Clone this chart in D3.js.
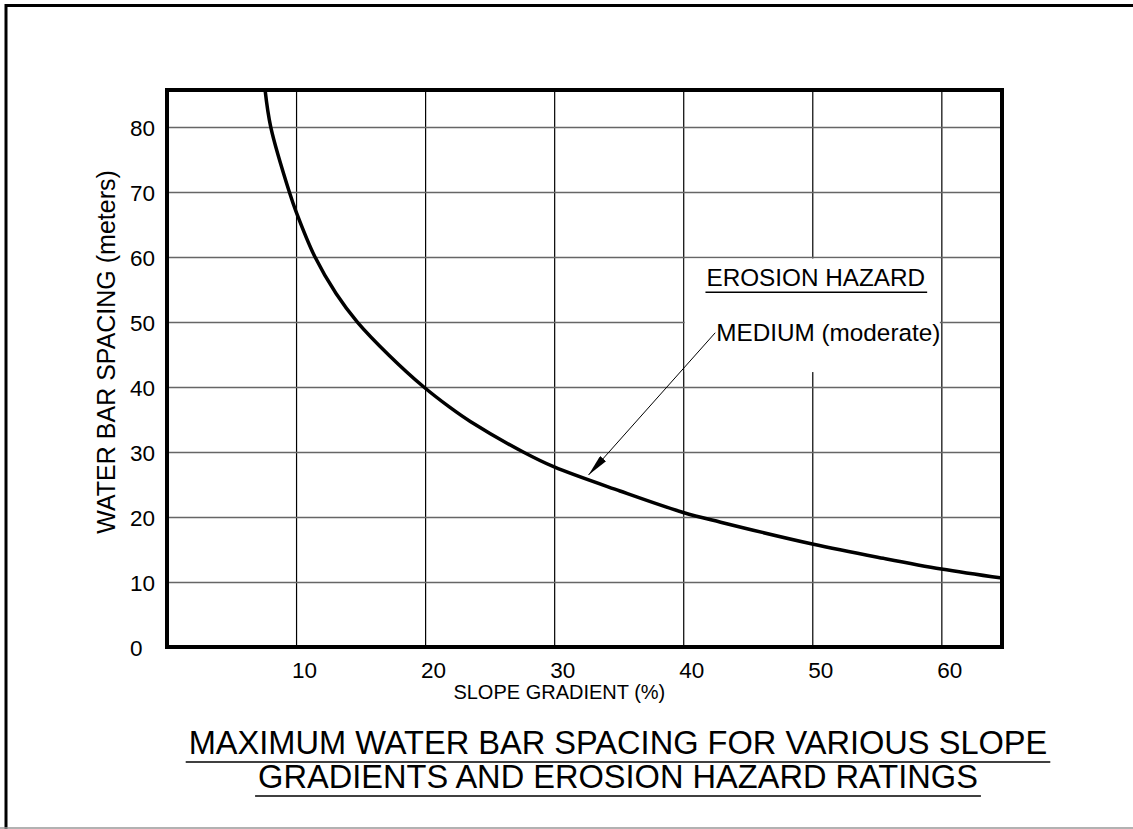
<!DOCTYPE html>
<html>
<head>
<meta charset="utf-8">
<script src="https://cdn.jsdelivr.net/npm/d3@7"></script>
<style>
  body { margin: 0; background: #fff; }
  text { font-family: "Liberation Sans", Arial, sans-serif; fill: #000; }
</style>
</head>
<body>
<div class="chart"></div>
<script>
// curve: slope gradient (%) vs spacing (m)
var slopeValues = [7.6, 8.04, 9.48, 10, 11.47, 13.1, 14.75, 17.2, 19.9, 21.9, 23.5, 27.6, 30, 35.1, 40, 42.9, 50, 55.5, 60, 64.7];
var spacingValues = [85.7, 80, 70, 67, 60, 54.4, 50, 44.9, 40, 36.9, 34.7, 30, 27.7, 24.0, 20.7, 19.2, 15.85, 13.65, 12.0, 10.6];

var xTicks = [10, 20, 30, 40, 50, 60];
var yTicks = [0, 10, 20, 30, 40, 50, 60, 70, 80];

var titleLines = ["MAXIMUM WATER BAR SPACING FOR VARIOUS SLOPE", "GRADIENTS AND EROSION HAZARD RATINGS"];
var legendTitle = "EROSION HAZARD";
var seriesName = "MEDIUM (moderate)";
// arrow from the label to the curve, in data units
var arrowFrom = [42.48, 48.35];
var arrowTo = [32.66, 26.46];
// blank patch behind the legend text, in data units
var legendBox = { x0: 40, x1: 60, y0: 42.3, y1: 60 };

var svgWidth = 1133;
var svgHeight = 829;

var margin = { top: 90, left: 167, right: 131, bottom: 182 };
var width = svgWidth - margin.left - margin.right;
var height = svgHeight - margin.top - margin.bottom;

var svg = d3.select(".chart")
  .append("svg")
  .attr("width", svgWidth)
  .attr("height", svgHeight)
  .style("display", "block");

svg.append("rect")
  .attr("width", svgWidth)
  .attr("height", svgHeight)
  .attr("fill", "#fff");

// sheet border
svg.append("line").attr("x1", 5).attr("x2", svgWidth).attr("y1", 5.5).attr("y2", 5.5)
  .attr("stroke", "#000").attr("stroke-width", 3);
svg.append("line").attr("x1", 6).attr("x2", 6).attr("y1", 4).attr("y2", svgHeight)
  .attr("stroke", "#000").attr("stroke-width", 3);
svg.append("line").attr("x1", 0).attr("x2", svgWidth).attr("y1", 828).attr("y2", 828)
  .attr("stroke", "#999").attr("stroke-width", 1.5);

var chartGroup = svg.append("g")
  .attr("transform", `translate(${margin.left}, ${margin.top})`);

var xScale = d3.scaleLinear().domain([0, 64.7]).range([0, width]);
var yScale = d3.scaleLinear().domain([0, 85.7]).range([height, 0]);

// grid
var xGrid = chartGroup.append("g")
  .attr("transform", `translate(0, ${height})`)
  .call(d3.axisBottom(xScale).tickValues(xTicks).tickSize(-height).tickFormat(""));
xGrid.select(".domain").remove();
xGrid.selectAll("line").attr("stroke", "#000").attr("stroke-width", 1.2);

var yGrid = chartGroup.append("g")
  .call(d3.axisLeft(yScale).tickValues(yTicks.slice(1)).tickSize(-width).tickFormat(""));
yGrid.select(".domain").remove();
yGrid.selectAll("line").attr("stroke", "#666").attr("stroke-width", 1.6);

// white patch behind legend
chartGroup.append("rect")
  .attr("x", xScale(legendBox.x0) + 1.5)
  .attr("width", xScale(legendBox.x1) - xScale(legendBox.x0) - 3)
  .attr("y", yScale(legendBox.y1) + 1.5)
  .attr("height", yScale(legendBox.y0) - yScale(legendBox.y1) - 1.5)
  .attr("fill", "#fff");

// curve
var points = slopeValues.map((s, i) => [s, spacingValues[i]]);
var line = d3.line()
  .x(d => xScale(d[0]))
  .y(d => yScale(d[1]))
  .curve(d3.curveCatmullRom.alpha(0.5));

chartGroup.append("path")
  .datum(points)
  .attr("d", line)
  .attr("fill", "none")
  .attr("stroke", "#000")
  .attr("stroke-width", 3.5);

// plot frame
chartGroup.append("rect")
  .attr("width", width)
  .attr("height", height)
  .attr("fill", "none")
  .attr("stroke", "#000")
  .attr("stroke-width", 4);

// axes labels
var yAxis = chartGroup.append("g")
  .call(d3.axisLeft(yScale).tickValues(yTicks).tickSize(0).tickFormat(d3.format("d")));
yAxis.select(".domain").remove();
yAxis.selectAll("text")
  .attr("x", -37)
  .attr("text-anchor", "start")
  .attr("dy", "0.36em")
  .style("font-size", "22.5px")
  .style("font-family", "'Liberation Sans', Arial, sans-serif");

var xAxis = chartGroup.append("g")
  .attr("transform", `translate(0, ${height})`)
  .call(d3.axisBottom(xScale).tickValues(xTicks).tickSize(0).tickFormat(d3.format("d")));
xAxis.select(".domain").remove();
xAxis.selectAll("text")
  .attr("x", 8)
  .attr("y", 31)
  .attr("dy", 0)
  .style("font-size", "22.5px")
  .style("font-family", "'Liberation Sans', Arial, sans-serif");

chartGroup.append("text")
  .attr("x", xScale(30.4))
  .attr("y", height + 52)
  .attr("text-anchor", "middle")
  .style("font-size", "20px")
  .text("SLOPE GRADIENT (%)");

chartGroup.append("text")
  .attr("transform", `translate(-52, ${yScale(45.4)}) rotate(-90)`)
  .attr("text-anchor", "middle")
  .style("font-size", "25px")
  .text("WATER BAR SPACING (meters)");

// legend
var legendText = chartGroup.append("text")
  .attr("x", xScale(41.8))
  .attr("y", yScale(55.5))
  .style("font-size", "24.3px")
  .text(legendTitle);
var lw = legendText.node().getComputedTextLength();
chartGroup.append("line")
  .attr("x1", xScale(41.8) - 1)
  .attr("x2", xScale(41.8) + lw + 2)
  .attr("y1", yScale(55.5) + 6)
  .attr("y2", yScale(55.5) + 6)
  .attr("stroke", "#000")
  .attr("stroke-width", 1.5);

chartGroup.append("text")
  .attr("x", xScale(arrowFrom[0]) + 1)
  .attr("y", yScale(arrowFrom[1]) + 8.5)
  .style("font-size", "24.3px")
  .text(seriesName);

// leader arrow
svg.append("defs").append("marker")
  .attr("id", "head")
  .attr("viewBox", "0 0 22 8")
  .attr("refX", 22)
  .attr("refY", 4)
  .attr("markerWidth", 22)
  .attr("markerHeight", 8)
  .attr("markerUnits", "userSpaceOnUse")
  .attr("orient", "auto")
  .append("path")
  .attr("d", "M0,0 L22,4 L0,8 Z")
  .attr("fill", "#000");

chartGroup.append("line")
  .attr("x1", xScale(arrowFrom[0]))
  .attr("y1", yScale(arrowFrom[1]))
  .attr("x2", xScale(arrowTo[0]))
  .attr("y2", yScale(arrowTo[1]))
  .attr("stroke", "#000")
  .attr("stroke-width", 1)
  .attr("marker-end", "url(#head)");

// title with underlines
var titleY = [754, 788];
titleLines.forEach(function(t, i) {
  var tx = svg.append("text")
    .attr("x", 618)
    .attr("y", titleY[i])
    .attr("text-anchor", "middle")
    .style("font-size", "32.6px")
    .text(t);
  var tw = tx.node().getComputedTextLength();
  svg.append("line")
    .attr("x1", 618 - tw / 2 - 3)
    .attr("x2", 618 + tw / 2 + 3)
    .attr("y1", titleY[i] + 8)
    .attr("y2", titleY[i] + 8)
    .attr("stroke", "#000")
    .attr("stroke-width", 1.5);
});
</script>
</body>
</html>
